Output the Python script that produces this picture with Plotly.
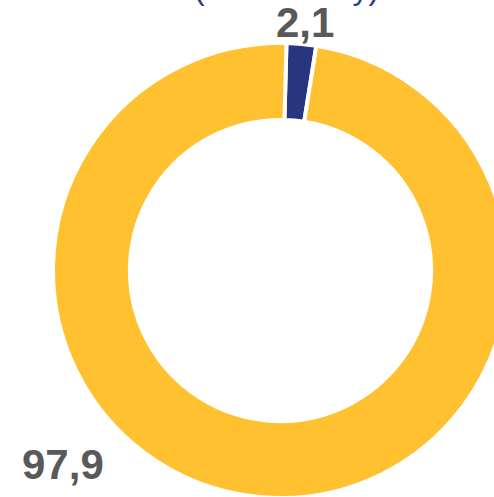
import plotly.graph_objects as go

labels = ["Доля 1", "Доля 2"]
values = [2.1, 97.9]
colors = ["#283580", "#FFC12F"]
title_text = "(в % к итогу)"

# plot area geometry (pixels)
L, T, W = 53, 43, 455


def px(x, y):
    return (x - L) / W, 1 - (y - T) / W


def fmt(v):
    return f"<b>{v:.1f}</b>".replace(".", ",")


fig = go.Figure(go.Pie(
    labels=labels,
    values=values,
    hole=0.662,
    sort=False,
    direction="clockwise",
    rotation=1.5,
    marker=dict(colors=colors, line=dict(color="white", width=4)),
    textinfo="none",
    hoverinfo="label+value",
    showlegend=False,
))

label_pos = [(305, 23), (63, 464)]
for v, (x, y) in zip(values, label_pos):
    ax, ay = px(x, y)
    fig.add_annotation(x=ax, y=ay, xref="paper", yref="paper", text=fmt(v),
                       showarrow=False, xanchor="center", yanchor="middle",
                       font=dict(family="Arial, Liberation Sans", size=42, color="#595959"))

tx, ty = px(286, -12)
fig.add_annotation(x=tx, y=ty, xref="paper", yref="paper", text=title_text,
                   showarrow=False, xanchor="center", yanchor="middle",
                   font=dict(family="Arial, Liberation Sans", size=32, color="#2E3A87"))

fig.update_layout(
    width=510, height=500,
    margin=dict(l=L, r=2, t=T, b=2),
    paper_bgcolor="white",
    plot_bgcolor="white",
)

fig.write_html("out.html", config={"displayModeBar": False},
               post_script="document.body.style.margin='0';document.body.style.overflow='hidden';document.documentElement.style.overflow='hidden';")
